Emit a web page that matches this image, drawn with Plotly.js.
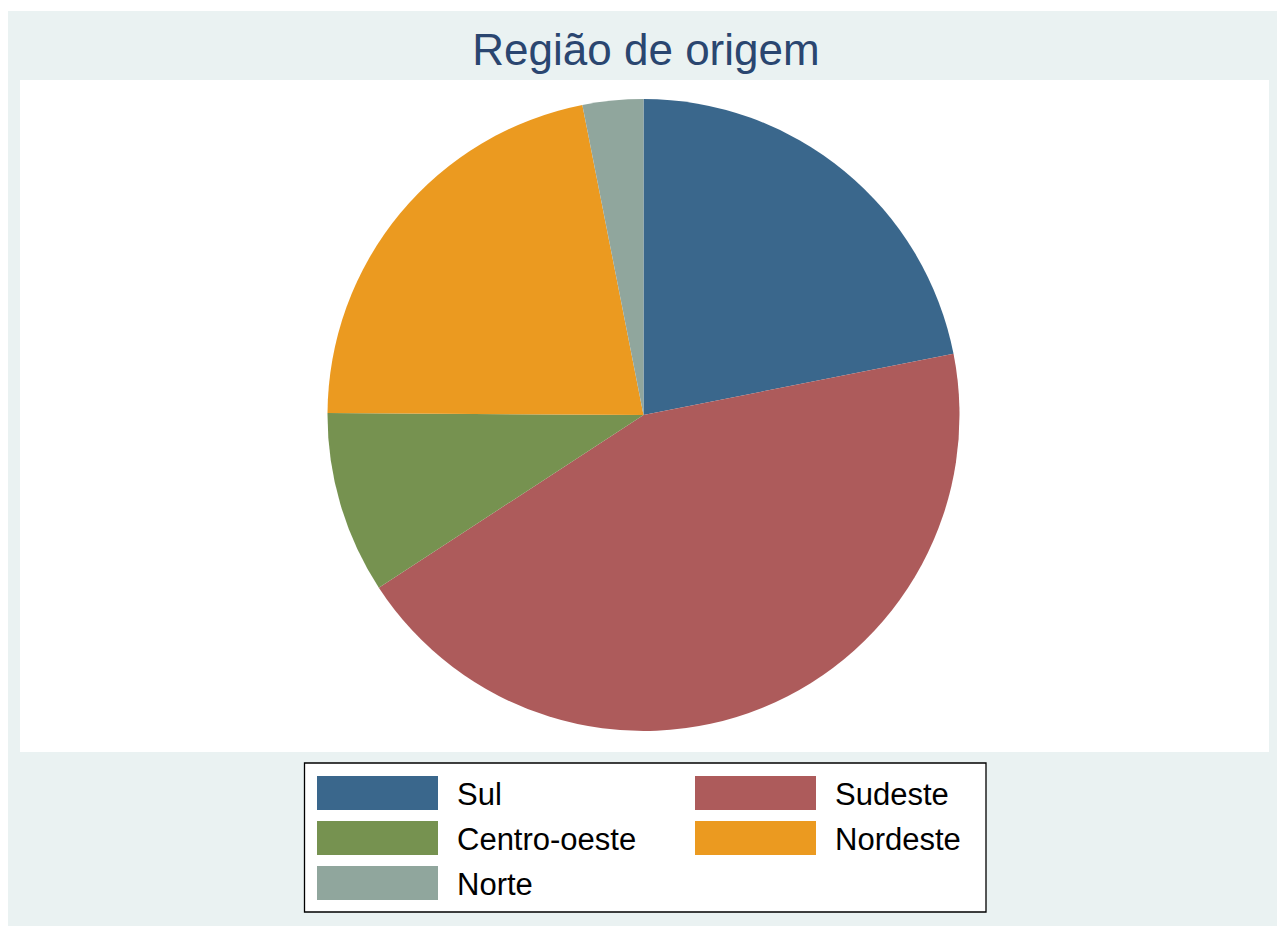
<!DOCTYPE html>
<html>
<head>
<meta charset="utf-8">
<script src="https://cdn.plot.ly/plotly-3.0.1.min.js"></script>
<style>html,body{margin:0;padding:0;background:#fff;}#chart{width:1277px;height:926px;}</style>
</head>
<body>
<div id="chart"></div>
<script>
const categories = ["Sul", "Sudeste", "Centro-oeste", "Nordeste", "Norte"];
const shares = [21.9, 43.9, 9.3, 21.8, 3.1];
const colors = ["#3A678C", "#AD5B5B", "#769250", "#EB9A20", "#90A69D"];
const titleText = "Região de origem";

const W = 1277, H = 926;
const px = (x) => x / W;
const py = (y) => 1 - y / H;

// pie geometry (pixels)
const cx = 643.5, cy = 415, r = 316;

const shapes = [
  {type: "rect", xref: "paper", yref: "paper", x0: px(8), x1: 1, y0: 0, y1: py(11),
   fillcolor: "#EAF2F2", line: {width: 0}, layer: "below"},
  {type: "rect", xref: "paper", yref: "paper", x0: px(20), x1: px(1269), y0: py(752), y1: py(80),
   fillcolor: "#FFFFFF", line: {width: 0}, layer: "below"},
  {type: "rect", xref: "paper", yref: "paper", x0: px(304.5), x1: px(986), y0: py(912), y1: py(763),
   fillcolor: "#FFFFFF", line: {width: 1.3, color: "#000000"}, layer: "below"}
];
const annotations = [];
const colX = [[317, 438, 455], [695, 816, 833]];
const rowY = [793, 838, 883];
categories.forEach((c, i) => {
  const col = colX[i % 2];
  const yc = rowY[Math.floor(i / 2)];
  shapes.push({type: "rect", xref: "paper", yref: "paper", x0: px(col[0]), x1: px(col[1]),
    y0: py(yc + 17), y1: py(yc - 17), fillcolor: colors[i], line: {width: 0}});
  annotations.push({xref: "paper", yref: "paper", x: px(col[2]), y: py(yc + 1), text: c,
    showarrow: false, xanchor: "left", yanchor: "middle",
    font: {family: "Liberation Sans, Arial, sans-serif", size: 31, color: "#000"}});
});

const data = [{
  type: "pie",
  labels: categories,
  values: shares,
  sort: false,
  direction: "clockwise",
  rotation: 0,
  textinfo: "none",
  hoverinfo: "label+percent",
  marker: {colors: colors, line: {width: 0}},
  domain: {x: [px(cx - r), px(cx + r)], y: [py(cy + r), py(cy - r)]},
  showlegend: false
}];

const layout = {
  width: W, height: H,
  margin: {l: 0, r: 0, t: 0, b: 0},
  paper_bgcolor: "#FFFFFF",
  showlegend: false,
  title: {text: titleText, x: px(646), xanchor: "center", y: py(50), yanchor: "middle",
    font: {family: "Liberation Sans, Arial, sans-serif", size: 44, color: "#2A4670"}},
  shapes: shapes,
  annotations: annotations
};

Plotly.newPlot("chart", data, layout, {displayModeBar: false});
</script>
</body>
</html>
